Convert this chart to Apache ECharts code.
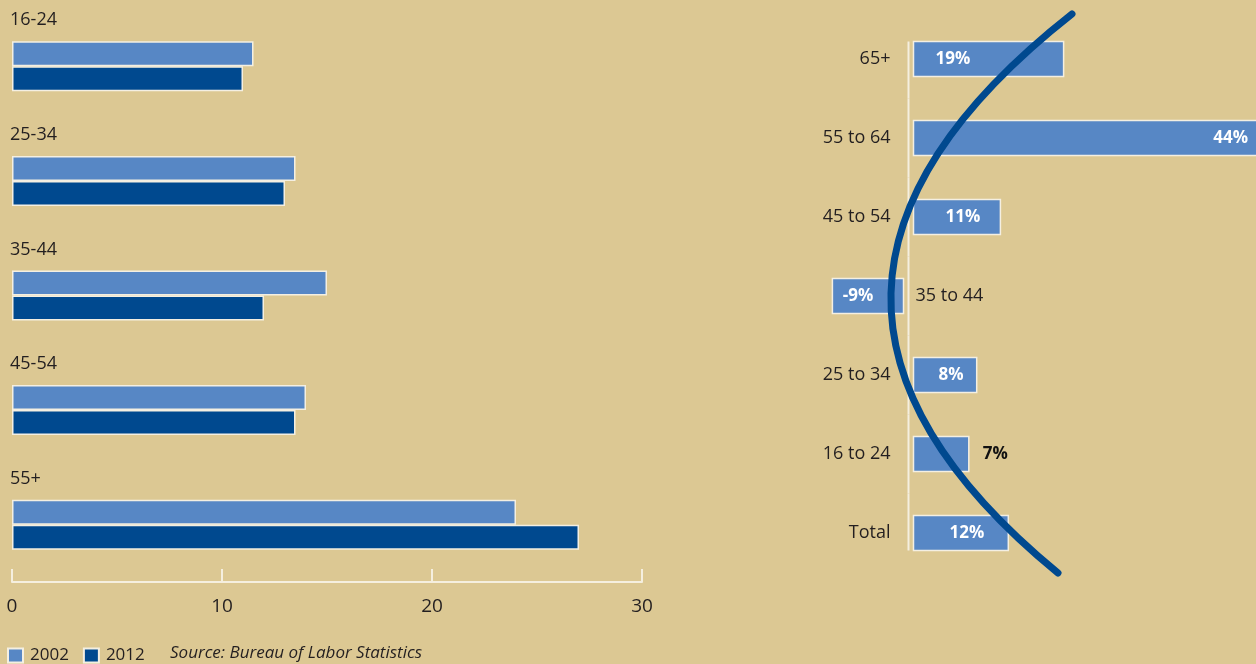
<!DOCTYPE html>
<html>
<head>
<meta charset="utf-8">
<script src="https://cdn.jsdelivr.net/npm/echarts@6/dist/echarts.min.js"></script>
<style>
  html, body { margin: 0; padding: 0; background: #dcc893; }
  #main { width: 1256px; height: 664px; }
</style>
</head>
<body>
<div id="main"></div>
<script>
var chartDom = document.getElementById('main');
var myChart = echarts.init(chartDom);
var option;

// left panel: share by age group
var ageGroups = ['16-24', '25-34', '35-44', '45-54', '55+'];
var share2002 = [11.5, 13.5, 15, 14, 24];
var share2012 = [11, 13, 12, 13.5, 27];

// right panel: growth by age group
var growthGroups = ['65+', '55 to 64', '45 to 54', '35 to 44', '25 to 34', '16 to 24', 'Total'];
var growthPct = [19, 44, 11, -9, 8, 7, 12];

var light = '#5787c5';
var dark = '#00498f';
var ink = '#231f20';
var cream = '#f5efdf';
var font = 'Open Sans';

function renderGrowth(params, api) {
  var i = params.dataIndex;
  var v = api.value(0);
  var zero = api.coord([0, i]);
  var end = api.coord([v, i]);
  var band = api.size([0, 1])[1];
  var h = 35;
  var gap = 5;
  var sign = v < 0 ? -1 : 1;
  var xa = zero[0] + sign * gap;
  var xb = end[0] + sign * gap;
  var cy = zero[1];
  var last = params.dataInsideLength - 1;

  var children = [];
  // zero line piece
  children.push({
    type: 'line',
    shape: {
      x1: zero[0], x2: zero[0],
      y1: i === 0 ? cy - h / 2 : cy - band / 2,
      y2: i === last ? cy + h / 2 : cy + band / 2
    },
    style: { stroke: cream, lineWidth: 2 }
  });
  children.push({
    type: 'rect',
    shape: { x: Math.min(xa, xb), y: cy - h / 2, width: Math.abs(xb - xa), height: h },
    style: { fill: light, stroke: '#f4efe2', lineWidth: 1.5 }
  });

  var txt = v + '%';
  var lx, align, color = '#ffffff';
  if (v > 0 && v < 8) {
    lx = xb + 14; align = 'left'; color = '#111111';
  } else if (v > 40) {
    lx = xb - 13; align = 'right';
  } else if (v > 15) {
    lx = xa + 22; align = 'left';
  } else if (v < 0) {
    lx = (xa + xb) / 2 - 10; align = 'center';
  } else {
    lx = (xa + xb) / 2 + 6; align = 'center';
  }
  children.push({
    type: 'text',
    style: {
      text: txt, x: lx, y: cy, align: align, verticalAlign: 'middle',
      fill: color, fontSize: 17, fontWeight: 'bold', fontFamily: font
    }
  });
  if (v < 0) {
    children.push({
      type: 'text',
      style: {
        text: growthGroups[i], x: zero[0] + 7, y: cy, align: 'left', verticalAlign: 'middle',
        fill: ink, fontSize: 18, fontFamily: font
      }
    });
  }
  return { type: 'group', children: children };
}

option = {
  backgroundColor: '#dcc893',
  textStyle: { fontFamily: font },
  legend: {
    data: ['2002', '2012'],
    left: 7,
    top: 647,
    icon: 'rect',
    itemWidth: 15,
    itemHeight: 14,
    itemGap: 14,
    padding: 0,
    textStyle: { fontSize: 17, color: ink, fontFamily: font, padding: [0, 0, 0, 2] }
  },
  grid: [
    { left: 12, top: 9, width: 630, height: 573 },
    { left: 750.5, top: 19.5, width: 474, height: 553 }
  ],
  xAxis: [
    {
      gridIndex: 0,
      type: 'value',
      min: 0,
      max: 30,
      interval: 10,
      axisLine: { show: true, lineStyle: { color: cream, width: 2 } },
      axisTick: { show: true, inside: true, length: 13, lineStyle: { color: cream, width: 2 } },
      axisLabel: { fontSize: 19, color: ink, margin: 15, fontFamily: font },
      splitLine: { show: false }
    },
    {
      gridIndex: 1,
      type: 'value',
      min: -20,
      max: 40,
      show: false
    }
  ],
  yAxis: [
    {
      gridIndex: 0,
      type: 'category',
      inverse: true,
      data: ageGroups,
      z: 10,
      axisLine: { show: false },
      axisTick: { show: false },
      axisLabel: {
        inside: true,
        margin: -2,
        align: 'left',
        verticalAlign: 'middle',
        fontSize: 18,
        color: ink,
        fontFamily: font,
        formatter: function (val) {
          return '{a|' + val + '}';
        },
        rich: {
          a: { fontSize: 18, color: ink, fontFamily: font, padding: [0, 0, 92, 0] }
        }
      }
    },
    {
      gridIndex: 1,
      type: 'category',
      inverse: true,
      data: growthGroups,
      offset: -158,
      axisLine: { show: false, onZero: false },
      axisTick: { show: false },
      axisLabel: {
        margin: 18,
        fontSize: 18,
        color: ink,
        fontFamily: font,
        formatter: function (val, idx) {
          return growthPct[idx] < 0 ? '' : val;
        }
      }
    }
  ],
  series: [
    {
      name: '2002',
      type: 'bar',
      xAxisIndex: 0,
      yAxisIndex: 0,
      data: share2002,
      barWidth: 25,
      barGap: '0%',
      itemStyle: { color: light, borderColor: '#f4efe2', borderWidth: 1.5 }
    },
    {
      name: '2012',
      type: 'bar',
      xAxisIndex: 0,
      yAxisIndex: 0,
      data: share2012,
      barWidth: 25,
      barGap: '0%',
      itemStyle: { color: dark, borderColor: '#f4efe2', borderWidth: 1.5 }
    },
    {
      name: 'Growth',
      type: 'custom',
      xAxisIndex: 1,
      yAxisIndex: 1,
      renderItem: renderGrowth,
      encode: { x: 0, y: 1 },
      clip: false,
      data: growthPct.map(function (g, i) { return [g, i]; })
    }
  ],
  graphic: [
    {
      type: 'text',
      left: 170,
      top: 645,
      style: {
        text: 'Source: Bureau of Labor Statistics',
        fontSize: 17,
        fontStyle: 'italic',
        fill: ink,
        fontFamily: font
      }
    },
    {
      type: 'bezierCurve',
      z: 100,
      shape: { x1: 1072, y1: 14, x2: 1058, y2: 573, cpx1: 717, cpy1: 293 },
      style: { stroke: dark, lineWidth: 7, lineCap: 'round', fill: null }
    }
  ]
};

option && myChart.setOption(option);
</script>
</body>
</html>
